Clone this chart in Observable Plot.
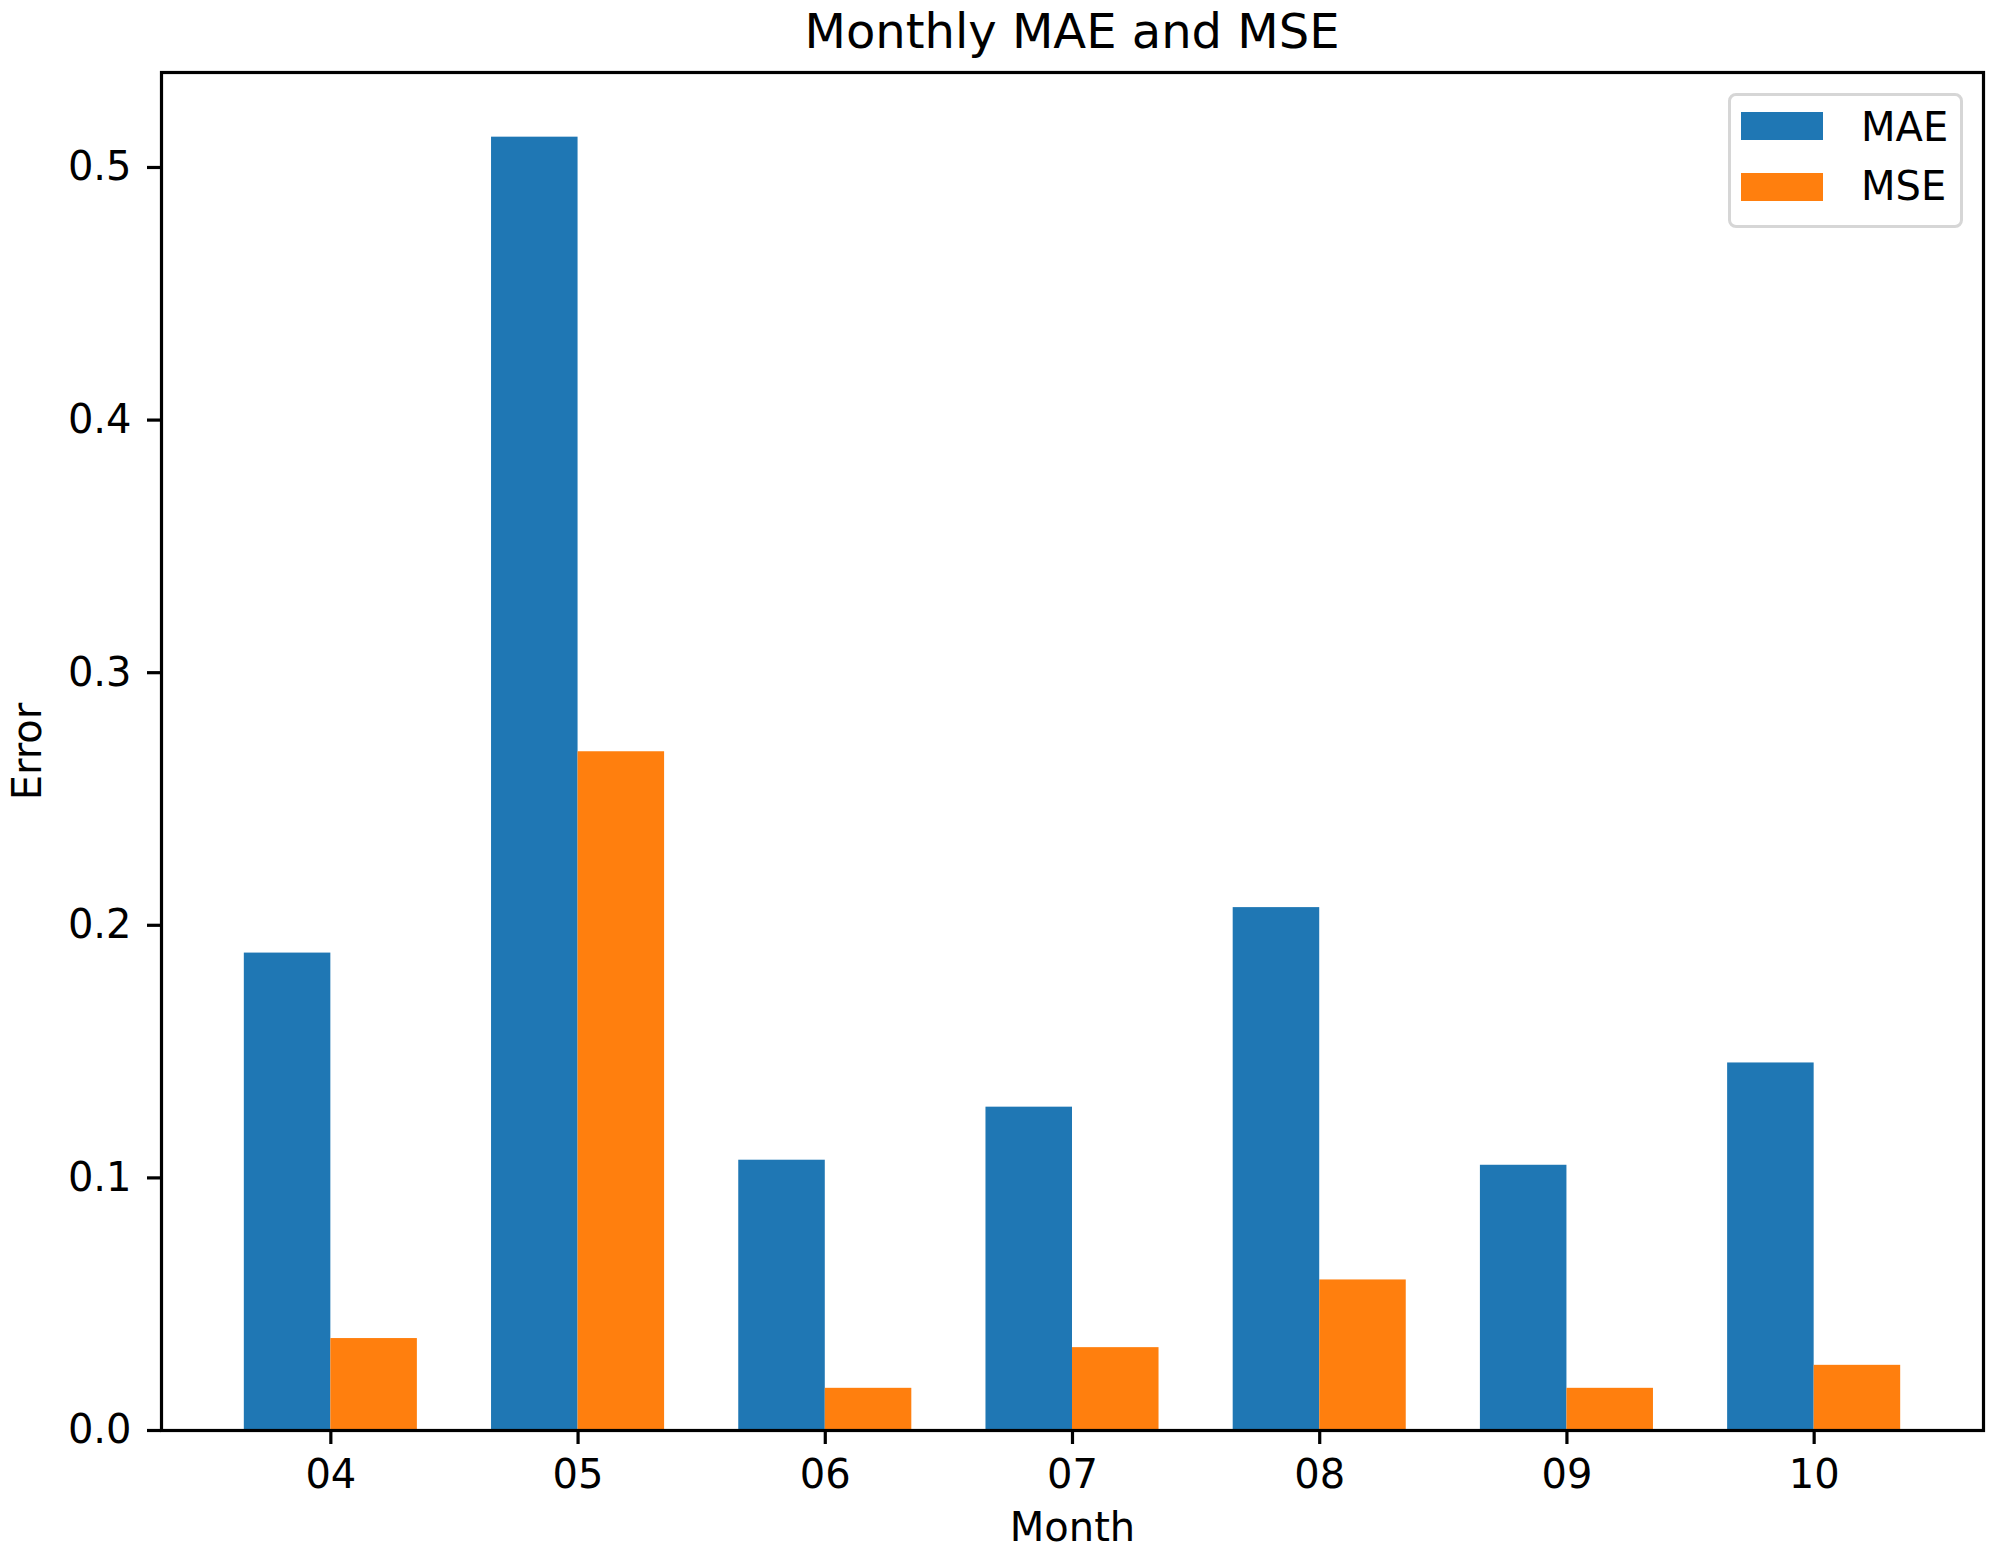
<!DOCTYPE html>
<html>
<head>
<meta charset="utf-8">
<script src="https://cdn.jsdelivr.net/npm/d3@7"></script>
<script src="https://cdn.jsdelivr.net/npm/@observablehq/plot@0.6"></script>
<style>
  html, body { margin: 0; padding: 0; background: #fff; }
  #wrap { position: relative; width: 2002px; height: 1561px; font-family: "DejaVu Sans", sans-serif; color: #000; }
  #title { position: absolute; left: 161px; width: 1822px; top: 0; height: 70px; box-sizing: border-box;
           padding-top: 7px; text-align: center; font-size: 48px; line-height: 48px; }
  #chart { position: absolute; left: 0; top: 70px; }
  #legend { position: absolute; left: 1728px; top: 93px; width: 235px; height: 135px; box-sizing: border-box;
            border: 3px solid #d6d6d6; border-radius: 8px; background: rgba(255,255,255,0.8); }
  .patch { position: absolute; left: 10px; width: 82px; height: 28px; }
  .lab { position: absolute; left: 130px; font-size: 40px; line-height: 40px; white-space: nowrap; }
</style>
</head>
<body>
<div id="wrap">
  <div id="title">Monthly MAE and MSE</div>
  <div id="chart"></div>
  <div id="legend"></div>
</div>
<script>
const months = ["04", "05", "06", "07", "08", "09", "10"];
const mae = [0.189, 0.512, 0.107, 0.128, 0.207, 0.105, 0.1455];
const mse = [0.0364, 0.2687, 0.0167, 0.0328, 0.0596, 0.0167, 0.0258];
const series = ["MAE", "MSE"];
const colors = ["#1f77b4", "#ff7f0e"];
const yTicks = [0, 0.1, 0.2, 0.3, 0.4, 0.5];
const barWidth = 0.35;

const rows = months.map((m, i) => ({i, month: m, MAE: mae[i], MSE: mse[i]}));

const chart = Plot.plot({
  width: 2002,
  height: 1491,
  marginLeft: 161,
  marginRight: 19,
  marginTop: 2,
  marginBottom: 131,
  x: {domain: [-0.685, 6.685]},
  y: {domain: [0, 0.5376]},
  style: {fontFamily: "DejaVu Sans", fontSize: "40px", color: "black", background: "white"},
  marks: [
    Plot.rect(rows, {x1: d => d.i - barWidth, x2: d => d.i, y1: 0, y2: "MAE", fill: colors[0]}),
    Plot.rect(rows, {x1: d => d.i, x2: d => d.i + barWidth, y1: 0, y2: "MSE", fill: colors[1]}),
    Plot.frame({stroke: "black", strokeWidth: 3.2}),
    Plot.axisX({ticks: rows.map(d => d.i), tickFormat: i => months[i], tickSize: 14, tickPadding: 15,
                strokeWidth: 3.2, fontSize: 40, label: null}),
    Plot.axisY({ticks: yTicks, tickFormat: d3.format(".1f"), tickSize: 14, tickPadding: 16,
                strokeWidth: 3.2, fontSize: 40, label: null}),
    Plot.text(["Month"], {frameAnchor: "bottom", dy: 110, fontSize: 40, text: d => d, fill: "black", textAnchor: "middle"}),
    Plot.text(["Error"], {frameAnchor: "left", dx: -133, rotate: -90, fontSize: 40, text: d => d, fill: "black", textAnchor: "middle"})
  ]
});
document.getElementById("chart").appendChild(chart);

const legend = document.getElementById("legend");
const patchTops = [16, 77];
const labelTops = [11, 70];
series.forEach((s, k) => {
  const p = document.createElement("div");
  p.className = "patch";
  p.style.top = patchTops[k] + "px";
  p.style.background = colors[k];
  legend.appendChild(p);
  const t = document.createElement("div");
  t.className = "lab";
  t.style.top = labelTops[k] + "px";
  t.textContent = s;
  legend.appendChild(t);
});
</script>
</body>
</html>
